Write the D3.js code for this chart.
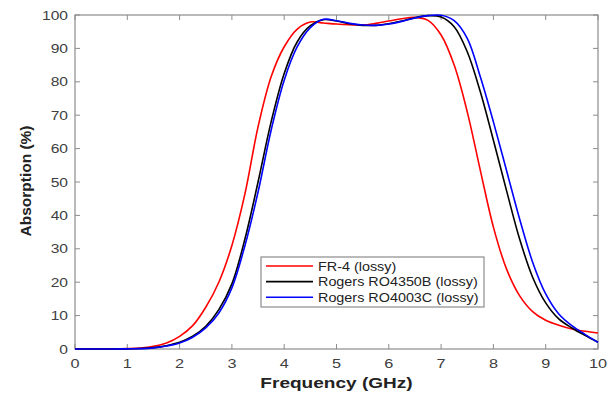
<!DOCTYPE html>
<html>
<head>
<meta charset="utf-8">
<script src="https://cdn.jsdelivr.net/npm/d3@7"></script>
<style>
  body { margin: 0; background: #fff; }
  svg { display: block; font-family: "Liberation Sans", Arial, sans-serif; }
</style>
</head>
<body>
<div id="chart"></div>
<script>
// frequency grid (GHz)
const freq = d3.range(0, 10.001, 0.25).map(f => +f.toFixed(2));

// absorption (%), one value per freq point
const fr4 = [0, 0, 0, 0, 0.1, 0.3, 0.8, 1.8, 3.8, 7, 12.5, 20, 31, 46.5, 66.5, 81.5, 90.5, 95.8, 97.9, 97.6,
  97.3, 97.1, 97.0, 97.5, 98.2, 98.9, 99.3, 98.4, 94, 85, 71, 53.5, 36.5, 24, 16, 11.2, 8.6, 7.1, 6.0, 5.3, 4.8];
const ro4350b = [0, 0, 0, 0, 0.05, 0.15, 0.4, 1.0, 2.0, 3.8, 6.8, 11.8, 19.5, 33, 50, 68, 82.5, 92, 96.8, 98.6,
  98.2, 97.4, 96.9, 96.9, 97.4, 98.2, 99.2, 99.8, 99.4, 96.5, 89, 77, 62.5, 47.5, 33, 21.5, 13.8, 9, 6.3, 4.1, 2.0];
const ro4003c = [0, 0, 0, 0, 0.05, 0.12, 0.35, 0.9, 1.8, 3.5, 6.3, 10.8, 18.3, 31, 47, 65.5, 80.5, 90.5, 96.2, 98.7,
  98.3, 97.5, 97.0, 96.9, 97.3, 98.1, 99.1, 99.8, 99.9, 98.3, 93, 81.5, 68, 53.5, 39, 26, 16.5, 10.5, 7, 4.4, 2.0];

const seriesNames = ["FR-4 (lossy)", "Rogers RO4350B (lossy)", "Rogers RO4003C (lossy)"];
const seriesColors = ["#ff0000", "#000000", "#0000ff"];
const seriesValues = [fr4, ro4350b, ro4003c];

const xTicks = d3.range(0, 11, 1);
const yTicks = d3.range(0, 101, 10);

const width = 616, height = 394;
const margin = {top: 15, right: 18, bottom: 45, left: 75};
const axisColor = "#8c8c8c";
const labelColor = "#404040";

const svg = d3.select('#chart').append('svg')
  .attr('width', width)
  .attr('height', height);

const x = d3.scaleLinear().domain([0, 10]).range([margin.left, width - margin.right]);
const y = d3.scaleLinear().domain([0, 100]).range([height - margin.bottom, margin.top]);

// plot box
svg.append('rect')
  .attr('x', x(0)).attr('y', y(100))
  .attr('width', x(10) - x(0)).attr('height', y(0) - y(100))
  .attr('fill', 'none')
  .attr('stroke', axisColor)
  .attr('stroke-width', 1.2);

// inward ticks on all four sides
const tickLen = 5;
const tickG = svg.append('g').attr('stroke', axisColor).attr('stroke-width', 1);
xTicks.forEach(t => {
  tickG.append('line').attr('x1', x(t)).attr('x2', x(t)).attr('y1', y(0)).attr('y2', y(0) - tickLen);
  tickG.append('line').attr('x1', x(t)).attr('x2', x(t)).attr('y1', y(100)).attr('y2', y(100) + tickLen);
});
yTicks.forEach(t => {
  tickG.append('line').attr('x1', x(0)).attr('x2', x(0) + tickLen).attr('y1', y(t)).attr('y2', y(t));
  tickG.append('line').attr('x1', x(10)).attr('x2', x(10) - tickLen).attr('y1', y(t)).attr('y2', y(t));
});

// stretched text helper (the source figure is wider than tall)
function label(g, tx, ty, text, opts) {
  return g.append('text')
    .attr('transform', `translate(${tx},${ty}) scale(${opts.sx || 1},1)`)
    .attr('text-anchor', opts.anchor || 'start')
    .attr('font-size', opts.size)
    .attr('font-weight', opts.weight || 'normal')
    .attr('fill', opts.color || '#000')
    .text(text);
}

xTicks.forEach(t => label(svg, x(t), 368, t, {anchor: 'middle', size: 13, sx: 1.25, color: labelColor}));
yTicks.forEach(t => label(svg, x(0) - 7, y(t) + 4.5, t, {anchor: 'end', size: 13, sx: 1.2, color: labelColor}));

// axis titles
label(svg, (x(0) + x(10)) / 2, 388, "Frequency (GHz)", {anchor: 'middle', size: 15, weight: 'bold', sx: 1.27, color: '#222'});
svg.append('text')
  .attr('transform', `translate(31,181) rotate(-90)`)
  .attr('text-anchor', 'middle')
  .attr('font-size', 15.5)
  .attr('font-weight', 'bold')
  .attr('fill', '#222')
  .text("Absorption (%)");

// curves
const line = d3.line()
  .x((d, i) => x(freq[i]))
  .y(d => y(d))
  .curve(d3.curveCatmullRom.alpha(0.5));

seriesValues.forEach((vals, i) => {
  svg.append('path')
    .datum(vals)
    .attr('d', line)
    .attr('fill', 'none')
    .attr('stroke', seriesColors[i])
    .attr('stroke-width', 1.6);
});

// legend
const leg = svg.append('g');
leg.append('rect')
  .attr('x', 261).attr('y', 257)
  .attr('width', 223).attr('height', 50)
  .attr('fill', '#fff')
  .attr('stroke', axisColor)
  .attr('stroke-width', 1.2);
seriesNames.forEach((name, i) => {
  const ly = 266 + i * 15.6;
  leg.append('line')
    .attr('x1', 266).attr('x2', 313)
    .attr('y1', ly).attr('y2', ly)
    .attr('stroke', seriesColors[i])
    .attr('stroke-width', 1.6);
  label(leg, 318, ly + 4.5, name, {size: 12.5, sx: 1.15, color: '#222'});
});
</script>
</body>
</html>
